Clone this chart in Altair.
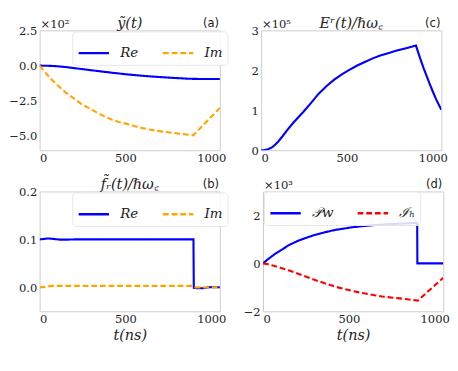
import altair as alt
import pandas as pd

# ---- data ----
# (a) y~(t), units of 1e2
t_a_re = [0, 50, 100, 151, 250, 330, 420, 509, 600, 688, 780, 868, 950, 1050]
re_a = [0, -0.01, -0.04, -0.1, -0.25, -0.37, -0.5, -0.62, -0.72, -0.8, -0.87, -0.93, -0.95, -0.95]
t_a_im = [0, 30, 61, 100, 151, 200, 240, 285, 330, 375, 419, 460, 509, 550, 599, 640, 688, 730, 778, 830, 895, 1050]
im_a = [0, -0.45, -0.88, -1.35, -1.9, -2.33, -2.7, -3.0, -3.3, -3.58, -3.82, -4.0, -4.13, -4.28,
        -4.43, -4.53, -4.63, -4.7, -4.77, -4.85, -4.94, -3.0]

# (b) f_r(t)/hbar w_c
t_b_re = [0, 25, 50, 80, 120, 160, 200, 500, 896, 898, 920, 950, 980, 1000, 1050]
re_b = [0.1, 0.101, 0.102, 0.101, 0.0995, 0.0995, 0.1, 0.1, 0.1, -0.001, -0.002, -0.002, 0.0, 0.0005, 0.0]
t_b_im = [0, 30, 70, 100, 500, 890, 905, 930, 1000, 1050]
im_b = [0, 0.001, 0.003, 0.003, 0.003, 0.003, 0.0, 0.0, 0.0, 0.0]

# (c) E^r(t)/hbar w_c, units of 1e5
t_c = [0, 20, 40, 63, 80, 100, 125, 153, 190, 244, 290, 334, 380, 424, 470, 514, 560, 604, 650,
       694, 740, 785, 850, 902, 925, 947, 965, 983, 1000, 1019, 1035, 1050]
e_c = [0, 0.005, 0.025, 0.07, 0.13, 0.22, 0.35, 0.51, 0.7, 0.95, 1.18, 1.41, 1.6, 1.76, 1.9, 2.01,
       2.12, 2.21, 2.3, 2.37, 2.43, 2.49, 2.56, 2.62, 2.32, 2.05, 1.85, 1.65, 1.47, 1.28, 1.14, 1.01]

# (d) P_w and I_h, units of 1e3
t_d_p = [0, 30, 63, 100, 153, 200, 244, 290, 334, 380, 424, 470, 514, 560, 604, 650, 694, 740,
         785, 840, 898, 899, 1050]
p_d = [0, 0.18, 0.36, 0.53, 0.77, 0.93, 1.05, 1.16, 1.25, 1.33, 1.4, 1.45, 1.5, 1.54, 1.57, 1.6,
       1.62, 1.64, 1.65, 1.67, 1.69, 0.0, 0.0]
t_d_i = [0, 30, 63, 100, 153, 200, 244, 290, 334, 380, 424, 470, 514, 560, 604, 650, 694, 740,
         785, 840, 902, 1050]
i_d = [0, -0.04, -0.1, -0.18, -0.3, -0.42, -0.54, -0.66, -0.77, -0.88, -0.98, -1.06, -1.14, -1.21,
       -1.27, -1.33, -1.38, -1.42, -1.45, -1.5, -1.55, -0.6]

SERIF = "DejaVu Serif"
W, H = 188, 125
BLUE, ORANGE, RED = "#0000ff", "#ffa500", "#ff0000"


def frame(series):
    rows = []
    for name, ts, vs in series:
        for i, (t, v) in enumerate(zip(ts, vs)):
            rows.append({"s": name, "t": t, "v": v, "o": i})
    return pd.DataFrame(rows)


def label(text, font, size, align, xpos, ypos, style="normal"):
    return alt.Chart(pd.DataFrame({"s": [text]})).mark_text(
        font=font, fontSize=size, align=align, baseline="alphabetic", color="#222222",
        fontStyle=style
    ).encode(text="s:N", x=alt.value(xpos), y=alt.value(ypos))


def panel(series, colors, dashes, ydom, yvals, yfmt, title, letter, expo,
          legend_pos, xtitle, yext):
    df = frame(series)
    names = [s[0] for s in series]
    x = alt.X("t:Q", scale=alt.Scale(domain=[0, 1050], nice=False),
              axis=alt.Axis(values=[0, 500, 1000], format="d",
                            title=xtitle if xtitle else None))
    y = alt.Y("v:Q", scale=alt.Scale(domain=ydom, nice=False, zero=False),
              axis=alt.Axis(values=yvals, format=yfmt, title=None,
                            minExtent=yext, maxExtent=yext))
    enc = dict(x=x, y=y, order="o:Q")
    if legend_pos:
        leg = alt.Legend(orient="none", legendX=legend_pos[0], legendY=legend_pos[1],
                         direction="horizontal", title=None,
                         symbolType="stroke", symbolSize=1000, symbolStrokeWidth=2.5,
                         labelFont=SERIF, labelFontStyle="italic", labelFontSize=14,
                         labelColor="#222222", columnPadding=20, padding=5,
                         fillColor="rgba(255,255,255,0.85)", strokeColor="#e6e6e6",
                         cornerRadius=4, symbolOffset=0, labelOffset=10)
        enc["color"] = alt.Color("s:N", scale=alt.Scale(domain=names, range=colors), legend=leg)
        enc["strokeDash"] = alt.StrokeDash("s:N", scale=alt.Scale(domain=names, range=dashes), legend=leg)
    else:
        enc["color"] = alt.Color("s:N", scale=alt.Scale(domain=names, range=colors), legend=None)
    lines = alt.Chart(df).mark_line(strokeWidth=2.2, clip=True).encode(**enc)
    layers = [lines]
    if expo:
        layers.append(label(expo, SERIF, 12, "left", 1, -3))
    if title:
        layers.append(label(title, SERIF, 15, "center", W / 2, -3, "italic"))
    layers.append(label(letter, "DejaVu Sans", 12, "right", W - 1, -4))
    return alt.layer(*layers).properties(width=W, height=H)


def indep(ch):
    return ch.resolve_scale(color="independent", strokeDash="independent").resolve_legend(
        color="independent", strokeDash="independent")


a = panel([("Re", t_a_re, re_a), ("Im", t_a_im, im_a)], [BLUE, ORANGE], [[1, 0], [6, 3]],
          [-6, 2.5], [-5, -2.5, 0, 2.5], ".1f", "ỹ(t)", "(a)", "×10²", (34, 1), None, 31)
c = panel([("E", t_c, e_c)], [BLUE], [[1, 0]],
          [0, 3], [0, 1, 2, 3], "d", "Eʳ(t)/ℏω꜀", "(c)", "×10⁵", None, None, 19)
b = panel([("Re", t_b_re, re_b), ("Im", t_b_im, im_b)], [BLUE, ORANGE], [[1, 0], [6, 3]],
          [-0.05, 0.2], [0.0, 0.1, 0.2], ".1f", "f̃ᵣ(t)/ℏω꜀", "(b)", None, (34, 1), "t(ns)", 31)
d = panel([("𝒫w", t_d_p, p_d), ("ℐₕ", t_d_i, i_d)], [BLUE, RED], [[1, 0], [6, 3]],
          [-2, 3], [-2, 0, 2], "d", "", "(d)", "×10³", (1, 0), "t(ns)", 19)

chart = indep(alt.vconcat(
    indep(alt.hconcat(a, c, spacing=14)),
    indep(alt.hconcat(b, d, spacing=14)),
    spacing=12,
)).properties(
    padding={"left": 0, "top": 0, "right": 0, "bottom": 0}, background="white"
).configure_view(
    stroke="#cccccc", strokeWidth=1
).configure_axis(
    grid=False, ticks=False, domain=False,
    labelFont=SERIF, labelFontSize=12, labelColor="#222222", labelPadding=3,
    titleFont=SERIF, titleFontSize=15, titleFontStyle="italic", titleFontWeight="normal",
    titleColor="#222222", titlePadding=3,
)

chart.save("out.html", embed_options={"renderer": "svg", "actions": False})
